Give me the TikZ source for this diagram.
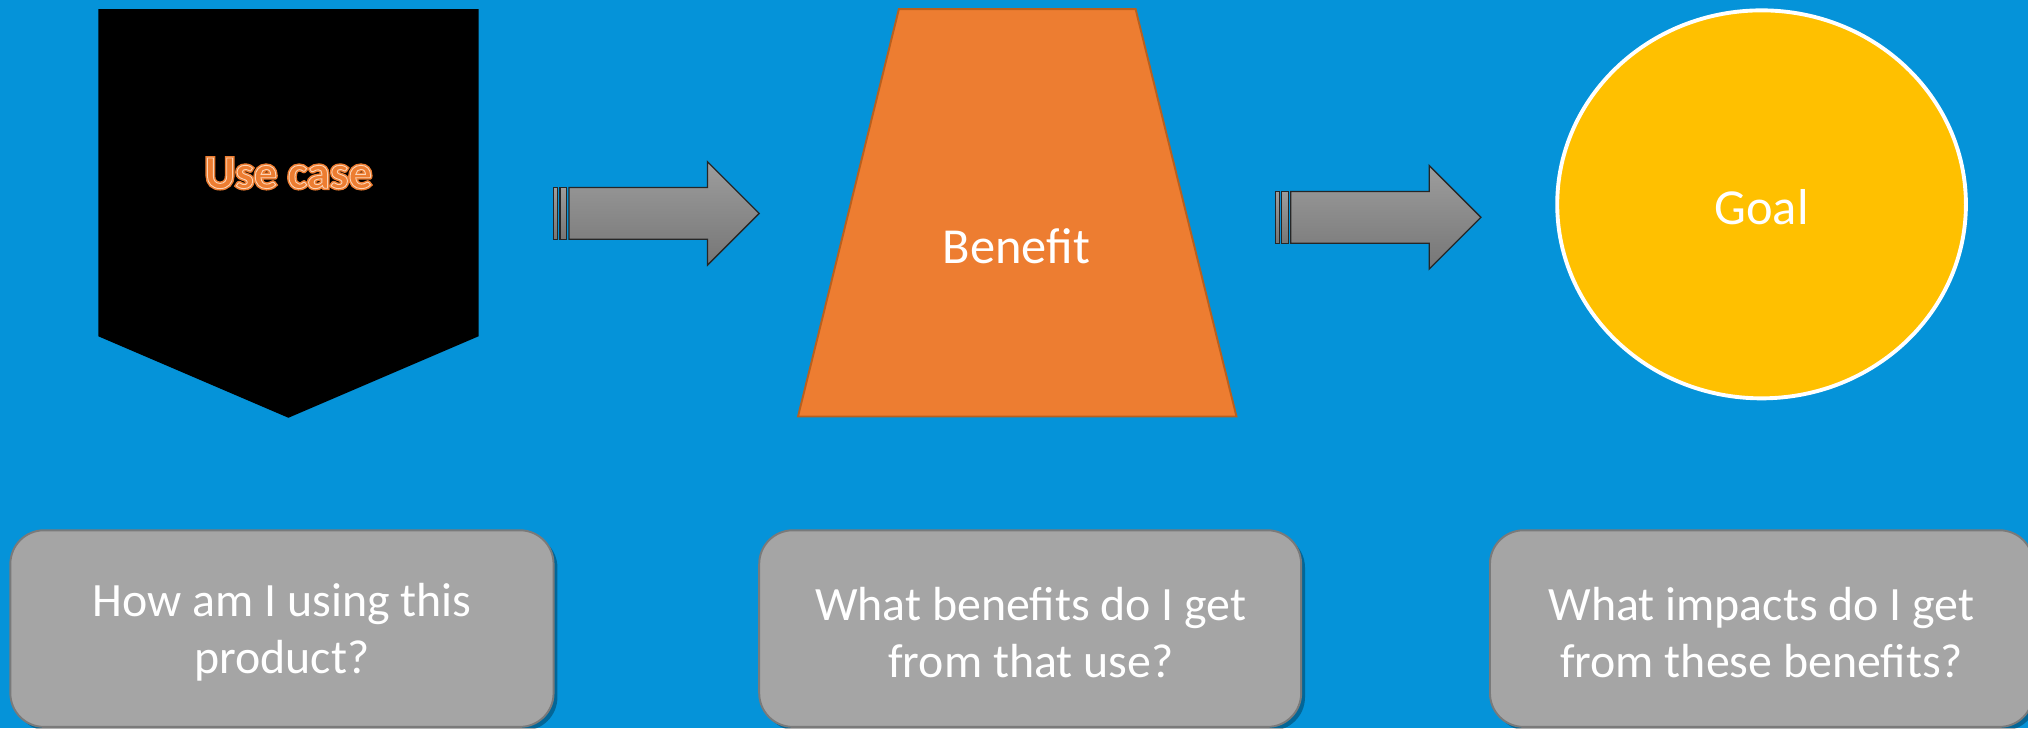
\documentclass[tikz,border=0pt]{standalone}
\usepackage{fontspec}
\setmainfont{Carlito}
\usetikzlibrary{shadows}
\definecolor{bg}{HTML}{0593D9}
\definecolor{uorange}{HTML}{ED7D31}
\definecolor{uorangedark}{HTML}{B8601F}
\definecolor{ugold}{HTML}{FFC000}
\definecolor{ugray}{HTML}{A5A5A5}
\definecolor{ugraydark}{HTML}{7A7A7A}
\definecolor{arrtop}{HTML}{9D9D9D}
\definecolor{arrbot}{HTML}{767676}
\definecolor{peach}{HTML}{FBD3B5}
\newcommand{\outlinetext}[1]{%
  \special{pdf:literal direct 2 Tr 3 w}#1\special{pdf:literal direct 0 Tr 1 w}}
\newcommand{\strokeonly}[1]{%
  \special{pdf:literal direct 1 Tr 0.7 w}#1\special{pdf:literal direct 0 Tr 1 w}}
\tikzset{
  arrpart/.style={draw=black!85, line width=1pt, top color=arrtop, bottom color=arrbot},
  qbox/.style={draw=ugraydark, line width=1.5pt, fill=ugray, rounded corners=26pt,
    drop shadow={shadow xshift=3pt, shadow yshift=-3pt, opacity=0.3, fill=black}},
  qtext/.style={text=white, align=center, font=\fontsize{37}{44}\selectfont},
  bigtext/.style={text=white, font=\fontsize{39}{46}\selectfont},
  ucfont/.style={font=\bfseries\fontsize{36}{43}\selectfont},
  blockarrow/.pic={
    \path[arrpart] (12,0) -- (119,0) -- (119,-20) -- (159,20) -- (119,60) -- (119,40) -- (12,40) -- cycle;
    \path[arrpart] (0,0) rectangle (3,40);
    \path[arrpart] (5,0) rectangle (10,40);
  }
}
\begin{document}
\begin{tikzpicture}[x=1pt, y={(0pt,-1pt)}]
\fill[bg] (0,0) rectangle (1568,563);
\useasboundingbox (0,0) rectangle (1568,563);

% use case pentagon
\path[fill=black] (76,7) -- (370,7) -- (370,260) -- (223,323) -- (76,260) -- cycle;
\node[text=uorange, ucfont] (uc) at (223,134) {\outlinetext{Use case}};
\node[text=peach, ucfont] (ucw) at (223,134) {\strokeonly{Use case}};

% arrows
\pic at (428,145) {blockarrow};
\pic at (986,148) {blockarrow};

% benefit trapezoid
\path[fill=uorange, draw=uorangedark, line width=1.5pt] (695,7) -- (878,7) -- (956,322) -- (617,322) -- cycle;
\node[bigtext] (benefit) at (786,190) {Benefit};

% goal ellipse
\path[fill=ugold, draw=white, line width=3pt] (1362,158) ellipse [x radius=158, y radius=150];
\node[bigtext] (goal) at (1362,160) {Goal};

% question boxes
\path[qbox] (8,410) rectangle (428,562);
\path[qbox] (587,410) rectangle (1006,562);
\path[qbox] (1152,410) rectangle (1572,562);
\node[qtext] (q1) at (218,489) {How am I using this\\product?};
\node[qtext] (q2) at (797,489) {What benefits do I get\\from that use?};
\node[qtext] (q3) at (1362,489) {What impacts do I get\\from these benefits?};
\end{tikzpicture}
\end{document}
